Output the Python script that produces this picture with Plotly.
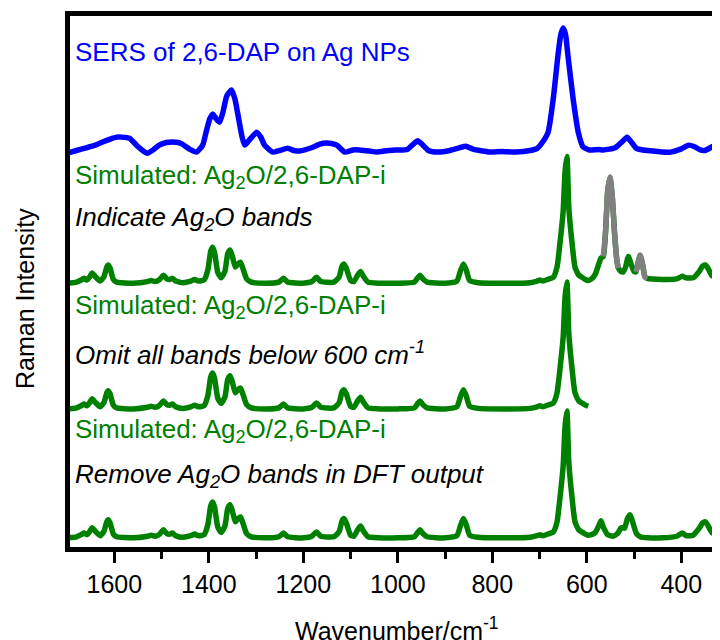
import plotly.graph_objects as go

# ---------------- data ----------------
# Experimental SERS spectrum (relative intensity above its own baseline)
sers_wn = [1700, 1680, 1660, 1640, 1625, 1610, 1595, 1585, 1568, 1553, 1540, 1530,
           1518, 1505, 1490, 1477, 1465, 1456, 1440, 1426, 1413, 1405, 1398, 1392,
           1384, 1377, 1370, 1362, 1352, 1345, 1339, 1330, 1324, 1312, 1299, 1290,
           1282, 1265, 1250, 1233, 1220, 1208, 1180, 1165, 1151, 1140, 1129, 1112,
           1095, 1081, 1060, 1045, 1020, 1002, 980, 966, 958, 948, 935, 917, 890,
           870, 856, 840, 820, 805, 780, 750, 720, 705, 695, 682, 671, 661, 655,
           650, 645, 640, 629, 618, 608, 595, 575, 565, 540, 527, 515, 505, 495,
           481, 460, 440, 423, 400, 385, 372, 360, 350, 335, 317]
sers_int = [-0.02, 0.03, 0.08, 0.13, 0.19, 0.24, 0.28, 0.28, 0.26, 0.13, 0.03, -0.02,
            0.04, 0.13, 0.18, 0.19, 0.18, 0.15, 0.05, 0.00, 0.13, 0.40, 0.62, 0.71,
            0.62, 0.56, 0.75, 1.05, 1.16, 1.00, 0.73, 0.30, 0.13, 0.25, 0.37, 0.28,
            0.13, 0.00, 0.03, 0.07, 0.03, 0.02, 0.09, 0.15, 0.17, 0.16, 0.13, 0.00,
            0.04, 0.04, 0.02, 0.00, 0.03, 0.04, 0.05, 0.16, 0.21, 0.14, 0.03, 0.00, 0.03,
            0.08, 0.11, 0.05, 0.02, 0.00, 0.01, 0.00, 0.03, 0.07, 0.17, 0.37, 1.00, 1.81, 2.20,
            2.32, 2.20, 1.81, 1.00, 0.37, 0.10, 0.04, 0.05, 0.04, 0.08, 0.18, 0.28, 0.18, 0.07,
            0.04, 0.02, 0.00, 0.00, 0.06, 0.13, 0.10, 0.04, 0.03, 0.10, 0.17]

# Simulated DFT spectrum above 600 cm-1 (shared by the three simulated traces)
dft_hi_wn = [1700, 1680, 1670, 1664, 1658, 1652, 1647, 1640, 1630, 1622, 1616, 1613,
             1609, 1602, 1595, 1560, 1530, 1522, 1514, 1504, 1496, 1489, 1482, 1477,
             1470, 1455, 1438, 1430, 1422, 1410, 1402, 1396, 1392, 1388, 1381, 1374,
             1366, 1360, 1355, 1350, 1344, 1338, 1333, 1328, 1320, 1310, 1280, 1252,
             1242, 1233, 1200, 1182, 1172, 1163, 1135, 1124, 1118, 1114, 1109, 1100,
             1093, 1085, 1079, 1073, 1063, 1040, 1000, 965, 958, 953, 947, 938, 900,
             875, 867, 861, 855, 848, 830, 780, 720, 705, 699, 693, 680, 671, 663,
             657, 650, 646, 642, 638, 631, 625, 617, 610, 603, 597]
dft_hi_int = [0.00, 0.02, 0.06, 0.09, 0.06, 0.12, 0.19, 0.12, 0.04, 0.12, 0.30, 0.34,
              0.28, 0.07, 0.02, 0.00, 0.03, 0.05, 0.03, 0.07, 0.15, 0.08, 0.07, 0.09,
              0.04, 0.01, 0.04, 0.07, 0.04, 0.06, 0.25, 0.60, 0.67, 0.58, 0.20, 0.10,
              0.22, 0.55, 0.62, 0.50, 0.30, 0.36, 0.39, 0.28, 0.08, 0.02, 0.00, 0.02,
              0.09, 0.02, 0.00, 0.03, 0.11, 0.03, 0.02, 0.12, 0.32, 0.36, 0.28, 0.05,
              0.03, 0.15, 0.22, 0.13, 0.02, 0.00, 0.00, 0.02, 0.10, 0.15, 0.08, 0.02, 0.00,
              0.04, 0.24, 0.36, 0.24, 0.05, 0.01, 0.00, 0.01, 0.04, 0.06, 0.04, 0.08, 0.11, 0.30,
              0.73, 1.35, 2.09, 2.37, 1.40, 0.73, 0.30, 0.15, 0.11, 0.07, 0.05]

# Below 600 cm-1, full DFT output (with Ag2O bands)
full_lo_wn = [590, 582, 575, 570, 565, 560, 556, 551, 546, 541, 536, 533,
              528, 523, 518, 512, 506, 500, 496, 491, 487, 482, 477, 472,
              440, 410, 398, 390, 375, 362, 355, 349, 343, 335, 325, 317]
full_lo_int = [0.08, 0.17, 0.35, 0.47, 0.50, 1.00, 1.70, 1.98, 1.60, 0.90, 0.40, 0.28,
               0.22, 0.21, 0.30, 0.50, 0.35, 0.22, 0.21, 0.40, 0.52, 0.35, 0.12, 0.09,
               0.07, 0.08, 0.13, 0.10, 0.10, 0.22, 0.32, 0.34, 0.27, 0.14, 0.11, 0.11]

# Below 600 cm-1, Ag2O bands removed from DFT output
clean_lo_wn = [590, 582, 575, 570, 565, 556, 545, 535, 528, 525, 520, 514, 508,
               503, 495, 487, 470, 440, 410, 398, 390, 375, 362, 355, 349, 343,
               335, 325, 317]
clean_lo_int = [0.06, 0.10, 0.22, 0.32, 0.20, 0.06, 0.03, 0.08, 0.18, 0.19, 0.18, 0.36, 0.43,
                0.30, 0.08, 0.02, 0.00, 0.00, 0.03, 0.09, 0.04, 0.05, 0.18, 0.28, 0.30, 0.22,
                0.10, 0.07, 0.09]

# Ag2O band windows (cm-1) drawn in grey on the first simulated trace
ag2o_windows = [(565, 533), (496, 472)]

# vertical stacking offsets of the four traces
offsets = {"sers": 7.40, "sim_full": 4.95, "sim_cut": 2.60, "sim_clean": 0.19}

x_major = [1600, 1400, 1200, 1000, 800, 600, 400]
x_labels = ["1600", "1400", "1200", "1000", "800", "600", "400"]

# ---------------- figure ----------------
BLUE = "#0000FF"
GREEN = "#008000"
GREY = "#808080"
FONT = "Arial, 'Liberation Sans', sans-serif"
LW = 5.5

fig = go.Figure()

def add(x, y, off, color):
    fig.add_trace(go.Scatter(
        x=x, y=[v + off for v in y], mode="lines",
        line=dict(color=color, width=LW, shape="spline", smoothing=0.5),
        showlegend=False, hoverinfo="skip"))

add(sers_wn, sers_int, offsets["sers"], BLUE)

full_wn = dft_hi_wn + full_lo_wn
full_int = dft_hi_int + full_lo_int
add(full_wn, full_int, offsets["sim_full"], GREEN)
for hi, lo in ag2o_windows:
    xs = [w for w in full_wn if lo <= w <= hi]
    ys = [v for w, v in zip(full_wn, full_int) if lo <= w <= hi]
    add(xs, ys, offsets["sim_full"], GREY)

add(dft_hi_wn, dft_hi_int, offsets["sim_cut"], GREEN)
add(dft_hi_wn + clean_lo_wn, dft_hi_int + clean_lo_int, offsets["sim_clean"], GREEN)

# page has an 8px body margin; figure sized so it ends at the window edge
PAGE = 8
W, H = 712, 632
L, R, T, B = 62, 0, 8, 93
pw, ph = W - L - R, H - T - B

def px(xp):
    return (xp - PAGE - L) / pw

def py(yp):
    return (H - B - (yp - PAGE)) / ph

labels = [
    ("SERS of 2,6-DAP on Ag NPs", BLUE, False, 52),
    ("Simulated: Ag<sub>2</sub>O/2,6-DAP-i", GREEN, False, 176),
    ("Indicate Ag<sub>2</sub>O bands", "black", True, 218),
    ("Simulated: Ag<sub>2</sub>O/2,6-DAP-i", GREEN, False, 307),
    ("Omit all bands below 600 cm<sup>-1</sup>", "black", True, 353),
    ("Simulated: Ag<sub>2</sub>O/2,6-DAP-i", GREEN, False, 431),
    ("Remove Ag<sub>2</sub>O bands in DFT output", "black", True, 476),
]
for text, color, italic, yc in labels:
    fig.add_annotation(
        text=("<i>%s</i>" % text) if italic else text,
        xref="paper", yref="paper", x=px(73), y=py(yc),
        xanchor="left", yanchor="middle", showarrow=False,
        font=dict(family=FONT, size=26, color=color))

fig.add_annotation(text="Wavenumber/cm<sup>-1</sup>", xref="paper", yref="paper",
                   x=px(397), y=py(629), xanchor="center", yanchor="middle",
                   showarrow=False, font=dict(family=FONT, size=25, color="black"))
fig.add_annotation(text="Raman Intensity", xref="paper", yref="paper",
                   x=px(25), y=py(299), xanchor="center", yanchor="middle",
                   textangle=-90, showarrow=False,
                   font=dict(family=FONT, size=25, color="black"))

fig.update_layout(
    width=W, height=H,
    margin=dict(l=L, r=R, t=T, b=B, pad=0),
    paper_bgcolor="white", plot_bgcolor="white",
    font=dict(family=FONT, color="black"),
    xaxis=dict(range=[1693.8, 318.1], showline=True, linecolor="black", linewidth=5,
               mirror=True, ticks="outside", ticklen=11, tickwidth=3, tickcolor="black",
               tickvals=x_major, ticktext=x_labels, automargin=False,
               tickfont=dict(family=FONT, size=25, color="black"),
               showgrid=False, zeroline=False,
               minor=dict(ticks="outside", ticklen=7, tickwidth=3, tickcolor="black",
                          dtick=100, tick0=0, showgrid=False)),
    yaxis=dict(range=[0.019, 9.944], showline=True, linecolor="black", linewidth=5,
               mirror=False, ticks="", showticklabels=False, automargin=False,
               showgrid=False, zeroline=False),
)

fig.write_html("out.html")
